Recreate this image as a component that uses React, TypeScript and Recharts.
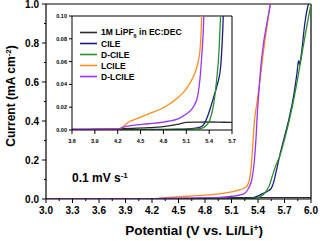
import React from 'react';
import { LineChart, Line, XAxis, YAxis, ReferenceLine, Legend } from 'recharts';

const FONT = "'Liberation Sans', Arial, sans-serif";

// LSV sweeps: potential (V vs. Li/Li+) and current density (mA cm-2)
const lipfV = [3.0, 3.6, 4.0, 4.2, 4.4, 4.6, 4.8, 5.0, 5.1, 5.2, 5.4, 5.6, 5.8, 6.0];
const lipfI = [0.0004, 0.0005, 0.0007, 0.001, 0.0014, 0.002, 0.003, 0.0052, 0.0066, 0.0069, 0.007, 0.0068, 0.0067, 0.0066];

const cileV = [3.0, 4.0, 4.5, 5.0, 5.2, 5.3, 5.34, 5.38, 5.42, 5.46, 5.5, 5.55, 5.58, 5.6, 5.65, 5.7, 5.75, 5.8, 5.84, 5.86, 5.87, 5.89, 5.93, 5.97, 6.0];
const cileI = [0, 0.0002, 0.0004, 0.0008, 0.0015, 0.003, 0.006, 0.012, 0.02, 0.029, 0.038, 0.055, 0.09, 0.13, 0.23, 0.32, 0.41, 0.52, 0.64, 0.71, 0.69, 0.74, 0.9, 1.0, 1.04];

const dcileV = [3.0, 4.0, 4.5, 5.0, 5.2, 5.3, 5.36, 5.41, 5.46, 5.5, 5.53, 5.55, 5.6, 5.65, 5.7, 5.75, 5.8, 5.85, 5.9, 5.95, 6.0];
const dcileI = [0, 0.0001, 0.0003, 0.0006, 0.001, 0.0015, 0.004, 0.009, 0.023, 0.045, 0.07, 0.1, 0.17, 0.225, 0.305, 0.395, 0.5, 0.62, 0.75, 0.88, 1.0];

const lcileV = [3.0, 3.6, 4.0, 4.2, 4.25, 4.3, 4.35, 4.4, 4.6, 4.8, 5.0, 5.1, 5.2, 5.25, 5.28, 5.3, 5.32, 5.34, 5.36, 5.39, 5.42, 5.46, 5.5, 5.54];
const lcileI = [0, 0.0002, 0.0004, 0.0008, 0.002, 0.0045, 0.0072, 0.0086, 0.014, 0.0195, 0.029, 0.036, 0.048, 0.058, 0.07, 0.095, 0.15, 0.27, 0.4, 0.5, 0.6, 0.75, 0.88, 1.0];

const dlcileV = [3.0, 3.6, 4.0, 4.2, 4.3, 4.45, 4.6, 4.8, 5.0, 5.1, 5.2, 5.25, 5.28, 5.3, 5.33, 5.36, 5.38, 5.39, 5.41, 5.43, 5.46, 5.5, 5.54];
const dlcileI = [0.0008, 0.0008, 0.0009, 0.001, 0.003, 0.0045, 0.0055, 0.007, 0.01, 0.014, 0.021, 0.03, 0.045, 0.062, 0.1, 0.2, 0.33, 0.42, 0.55, 0.67, 0.79, 0.9, 1.0];

const names = ['1M LiPF6 in EC:DEC', 'CILE', 'D-CILE', 'LCILE', 'D-LCILE'];
const colors = ['#2a2a2a', '#1c1c84', '#2b8f2b', '#ff8c1a', '#9933ff'];

// ticks
const mainXTicks = [3.0, 3.3, 3.6, 3.9, 4.2, 4.5, 4.8, 5.1, 5.4, 5.7, 6.0];
const mainXMinor = [3.15, 3.45, 3.75, 4.05, 4.35, 4.65, 4.95, 5.25, 5.55, 5.85];
const mainYTicks = [0, 0.2, 0.4, 0.6, 0.8, 1.0];
const mainYMinor = [0.1, 0.3, 0.5, 0.7, 0.9];
const insetXTicks = [3.6, 3.9, 4.2, 4.5, 4.8, 5.1, 5.4, 5.7];
const insetYTicks = [0, 0.02, 0.04, 0.06, 0.08, 0.1];

const pairs = (v: number[], i: number[]) => v.map((p, k) => ({ v: p, i: i[k] }));

const series = [
  { name: names[0], color: colors[0], data: pairs(lipfV, lipfI) },
  { name: names[1], color: colors[1], data: pairs(cileV, cileI) },
  { name: names[2], color: colors[2], data: pairs(dcileV, dcileI) },
  { name: names[3], color: colors[3], data: pairs(lcileV, lcileI) },
  { name: names[4], color: colors[4], data: pairs(dlcileV, dlcileI) },
];

const sorted = (a: number[], b: number[]) => [...a, ...b].sort((p, q) => p - q);
const isIn = (list: number[], v: number) => list.some(t => Math.abs(t - v) < 1e-6);

function TickX(props: any) {
  const { x, y, payload, majors, digits, fontSize, len, base } = props;
  const major = isIn(majors, payload.value);
  return (
    <g>
      <line x1={x} x2={x} y1={y} y2={y + (major ? len : len / 2)} stroke="#000" strokeWidth={1} />
      {major && (
        <text x={x} y={y + base} textAnchor="middle" fontSize={fontSize} fontWeight="bold" fontFamily={FONT} fill="#000">
          {payload.value.toFixed(digits)}
        </text>
      )}
    </g>
  );
}

function TickY(props: any) {
  const { x, y, payload, majors, digits, fontSize, len, gap } = props;
  const major = isIn(majors, payload.value);
  return (
    <g>
      <line x1={x} x2={x - (major ? len : len / 2)} y1={y} y2={y} stroke="#000" strokeWidth={1} />
      {major && (
        <text x={x - gap} y={y + fontSize * 0.36} textAnchor="end" fontSize={fontSize} fontWeight="bold" fontFamily={FONT} fill="#000">
          {payload.value.toFixed(digits)}
        </text>
      )}
    </g>
  );
}

// legend keeps the series order (recharts sorts its payload by name)
function InsetLegend() {
  return (
    <div style={{ fontFamily: FONT }}>
      {series.map(s => (
        <div key={s.name} style={{ display: 'flex', alignItems: 'center', height: 11 }}>
          <svg width={18} height={11}>
            <line x1={0} x2={17} y1={5.5} y2={5.5} stroke={s.color} strokeWidth={1.6} />
          </svg>
          <span style={{ marginLeft: 3, fontSize: 8.5, fontWeight: 'bold', color: '#000', whiteSpace: 'nowrap' }}>
            {s.name.includes('LiPF6') ? (
              <>1M LiPF<sub style={{ fontSize: 5.5 }}>6</sub> in EC:DEC</>
            ) : s.name}
          </span>
        </div>
      ))}
    </div>
  );
}

export default function App() {
  return (
    <div style={{ position: 'absolute', left: 0, top: 0, width: 320, height: 241, background: '#fff', fontFamily: FONT }}>
      <LineChart width={320} height={241} margin={{ top: 4, right: 9, left: 0, bottom: 0 }}>
        <XAxis
          type="number"
          dataKey="v"
          domain={[3, 6]}
          ticks={sorted(mainXTicks, mainXMinor)}
          interval={0}
          allowDataOverflow
          height={42}
          tickSize={0}
          tickMargin={0}
          tickLine={false}
          axisLine={{ stroke: '#000', strokeWidth: 1.2 }}
          tick={(p: any) => <TickX {...p} majors={mainXTicks} digits={1} fontSize={10} len={4} base={15} />}
          label={{
            content: () => (
              <text x={194} y={235} textAnchor="middle" fontSize={13.5} fontWeight="bold" fontFamily={FONT} fill="#000">
                Potential (V vs. Li/Li<tspan dy={-4} fontSize={8.5}>+</tspan><tspan dy={4}>)</tspan>
              </text>
            ),
          }}
        />
        <YAxis
          type="number"
          dataKey="i"
          domain={[0, 1]}
          ticks={sorted(mainYTicks, mainYMinor)}
          interval={0}
          allowDataOverflow
          width={46}
          tickSize={0}
          tickMargin={0}
          tickLine={false}
          axisLine={{ stroke: '#000', strokeWidth: 1.2 }}
          tick={(p: any) => <TickY {...p} majors={mainYTicks} digits={1} fontSize={10} len={4} gap={7} />}
          label={{
            content: () => (
              <text transform="translate(15,96) rotate(-90)" textAnchor="middle" fontSize={12} fontWeight="bold" fontFamily={FONT} fill="#000">
                Current (mA cm<tspan dy={-4} fontSize={8}>-2</tspan><tspan dy={4}>)</tspan>
              </text>
            ),
          }}
        />
        <ReferenceLine y={1} stroke="#000" strokeWidth={1.2} />
        <ReferenceLine x={6} stroke="#000" strokeWidth={1.2} />
        {series.map(s => (
          <Line
            key={s.name}
            data={s.data}
            dataKey="i"
            name={s.name}
            type="monotone"
            stroke={s.color}
            strokeWidth={1.3}
            dot={false}
            isAnimationActive={false}
          />
        ))}
      </LineChart>

      <svg width={320} height={241} style={{ position: 'absolute', left: 0, top: 0, pointerEvents: 'none' }}>
        <text x={72} y={182} fontSize={12} fontWeight="bold" fontFamily={FONT} fill="#000">
          0.1 mV s<tspan dy={-4} fontSize={8}>-1</tspan>
        </text>
      </svg>

      <div style={{ position: 'absolute', left: 0, top: 0 }}>
        <LineChart width={320} height={241} margin={{ top: 16, right: 88, left: 0, bottom: 0 }}>
          <XAxis
            type="number"
            dataKey="v"
            domain={[3.6, 5.7]}
            ticks={insetXTicks}
            interval={0}
            allowDataOverflow
            height={111}
            tickSize={0}
            tickMargin={0}
            tickLine={false}
            axisLine={{ stroke: '#000', strokeWidth: 1 }}
            tick={(p: any) => <TickX {...p} majors={insetXTicks} digits={1} fontSize={5.5} len={4} base={13} />}
          />
          <YAxis
            type="number"
            dataKey="i"
            domain={[0, 0.1]}
            ticks={insetYTicks}
            interval={0}
            allowDataOverflow
            width={72}
            tickSize={0}
            tickMargin={0}
            tickLine={false}
            axisLine={{ stroke: '#000', strokeWidth: 1 }}
            tick={(p: any) => <TickY {...p} majors={insetYTicks} digits={2} fontSize={5.5} len={3} gap={5} />}
          />
          <ReferenceLine y={0.1} stroke="#000" strokeWidth={1} />
          <ReferenceLine x={5.7} stroke="#000" strokeWidth={1} />
          <Legend
            layout="vertical"
            align="center"
            verticalAlign="middle"
            wrapperStyle={{ left: 80, top: 27, width: 140, height: 55 }}
            content={<InsetLegend />}
          />
          {series.map(s => (
            <Line
              key={s.name}
              data={s.data}
              dataKey="i"
              name={s.name}
              type="monotone"
              stroke={s.color}
              strokeWidth={1.3}
              dot={false}
              isAnimationActive={false}
            />
          ))}
        </LineChart>
      </div>
    </div>
  );
}
